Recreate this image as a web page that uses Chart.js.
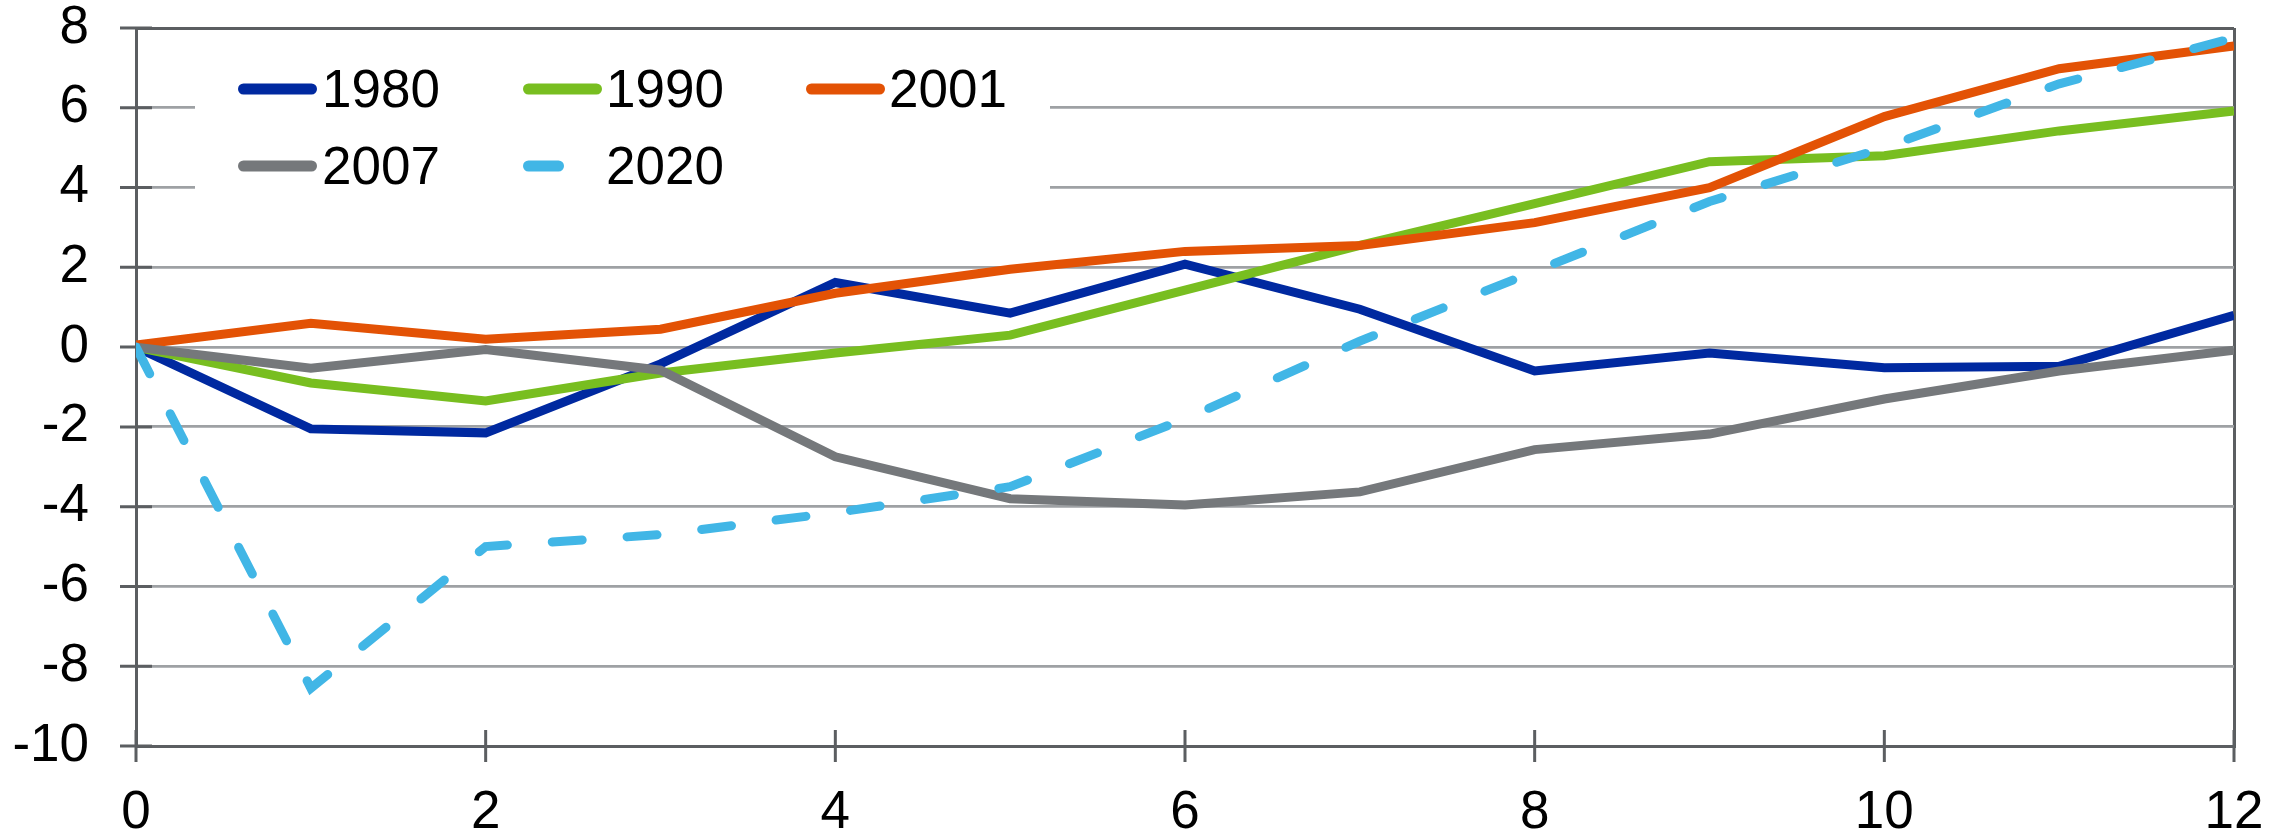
<!DOCTYPE html>
<html>
<head>
<meta charset="utf-8">
<script src="https://cdn.jsdelivr.net/npm/chart.js@4"></script>
<style>
  html, body { margin: 0; padding: 0; background: #fff; }
  canvas { display: block; }
</style>
</head>
<body>
<canvas id="recoveryChart" width="2292" height="832"></canvas>
<script>
// Periods after the start of each episode
const periods = [0, 1, 2, 3, 4, 5, 6, 7, 8, 9, 10, 11, 12];

// Series values
const s1980 = [0, -2.05, -2.15, -0.42, 1.62, 0.85, 2.08, 0.95, -0.6, -0.15, -0.52, -0.48, 0.8];
const s1990 = [0, -0.9, -1.35, -0.65, -0.15, 0.3, 1.43, 2.55, 3.6, 4.65, 4.8, 5.42, 5.92];
const s2001 = [0.05, 0.6, 0.2, 0.45, 1.35, 1.95, 2.4, 2.55, 3.12, 4.0, 5.78, 6.98, 7.55];
const s2007 = [0, -0.53, -0.06, -0.58, -2.75, -3.8, -3.96, -3.63, -2.57, -2.18, -1.3, -0.6, -0.08];
const s2020 = [0, -8.55, -5.0, -4.7, -4.15, -3.5, -1.8, 0.15, 1.9, 3.65, 5.0, 6.6, 7.75];

const seriesLabels = ["1980", "1990", "2001", "2007", "2020"];
const seriesColors = ["#0029A0", "#78BE20", "#E35205", "#75787B", "#41B6E6"];

// Axis tick values
const yTicks = [-10, -8, -6, -4, -2, 0, 2, 4, 6, 8];
const xTicks = [0, 2, 4, 6, 8, 10, 12];

const axisColor = "#5B5E61";
const gridColor = "#9EA1A4";
const fontFamily = "'Liberation Sans', Arial, sans-serif";

function points(values) {
  return periods.map((p, i) => ({ x: p, y: values[i] }));
}

// tick marks that cross the axes
const crossTicks = {
  id: "crossTicks",
  beforeDatasetsDraw(chart) {
    const { ctx, scales: { x, y } } = chart;
    ctx.save();
    ctx.strokeStyle = axisColor;
    ctx.lineWidth = 3;
    ctx.beginPath();
    y.ticks.forEach(t => {
      const py = y.getPixelForValue(t.value);
      ctx.moveTo(x.left - 16, py);
      ctx.lineTo(x.left + 16, py);
    });
    x.ticks.forEach(t => {
      const px = x.getPixelForValue(t.value);
      ctx.moveTo(px, y.bottom - 16);
      ctx.lineTo(px, y.bottom + 16);
    });
    ctx.stroke();
    ctx.restore();
  }
};

// legend drawn inside the plot, over the grid
const insideLegend = {
  id: "insideLegend",
  beforeDatasetsDraw(chart) {
    const ctx = chart.ctx;
    const colX = [238, 523, 806];
    const textX = [322, 606, 889];
    const rowY = [89, 166];
    ctx.save();
    ctx.fillStyle = "#fff";
    ctx.fillRect(195, 40, 855, 190);
    ctx.font = "53px " + fontFamily;
    ctx.textBaseline = "alphabetic";
    chart.data.datasets.forEach((ds, i) => {
      const c = i % 3;
      const r = Math.floor(i / 3);
      ctx.strokeStyle = ds.borderColor;
      ctx.lineWidth = 11;
      ctx.lineCap = "round";
      ctx.setLineDash(ds.borderDash || []);
      ctx.beginPath();
      ctx.moveTo(colX[c] + 5.5, rowY[r]);
      ctx.lineTo(colX[c] + 73.5, rowY[r]);
      ctx.stroke();
      ctx.setLineDash([]);
      ctx.fillStyle = "#000";
      ctx.fillText(ds.label, textX[c], rowY[r] + 18);
    });
    ctx.restore();
  }
};

const datasets = [s1980, s1990, s2001, s2007, s2020].map((vals, i) => ({
  label: seriesLabels[i],
  data: points(vals),
  borderColor: seriesColors[i],
  backgroundColor: seriesColors[i],
  borderWidth: 9,
  pointRadius: 0,
  tension: 0,
  fill: false,
  borderCapStyle: i === 4 ? "round" : "butt",
  borderJoinStyle: "miter",
  borderDash: i === 4 ? [30, 45] : [],
  order: 4 - i
}));

new Chart(document.getElementById("recoveryChart"), {
  type: "line",
  data: { datasets: datasets },
  options: {
    responsive: false,
    animation: false,
    devicePixelRatio: 1,
    layout: { padding: { top: 28, right: 58, left: 0, bottom: 0 } },
    plugins: {
      legend: { display: false },
      tooltip: { enabled: false }
    },
    scales: {
      x: {
        type: "linear",
        min: 0,
        max: 12,
        afterFit(scale) {
          scale.height = 86;
          scale.paddingLeft = 0;
          scale.paddingRight = 0;
        },
        afterBuildTicks(scale) { scale.ticks = xTicks.map(v => ({ value: v })); },
        ticks: {
          padding: 41,
          color: "#000",
          font: { family: fontFamily, size: 53, lineHeight: 1 }
        },
        grid: {
          drawTicks: false,
          color: ctx => (ctx.tick && ctx.tick.value === 12 ? axisColor : "rgba(0,0,0,0)"),
          lineWidth: 3
        },
        border: { color: axisColor, width: 3 }
      },
      y: {
        min: -10,
        max: 8,
        afterFit(scale) {
          scale.width = 136;
          scale.paddingTop = 0;
          scale.paddingBottom = 0;
        },
        afterBuildTicks(scale) { scale.ticks = yTicks.map(v => ({ value: v })); },
        ticks: {
          padding: 47,
          color: "#000",
          font: { family: fontFamily, size: 53, lineHeight: 1 }
        },
        grid: {
          drawTicks: false,
          color: ctx => (ctx.tick && (ctx.tick.value === 8 || ctx.tick.value === -10) ? axisColor : gridColor),
          lineWidth: ctx => (ctx.tick && (ctx.tick.value === 8 || ctx.tick.value === -10) ? 3 : 2.8)
        },
        border: { color: axisColor, width: 3 }
      }
    }
  },
  plugins: [crossTicks, insideLegend]
});
</script>
</body>
</html>
